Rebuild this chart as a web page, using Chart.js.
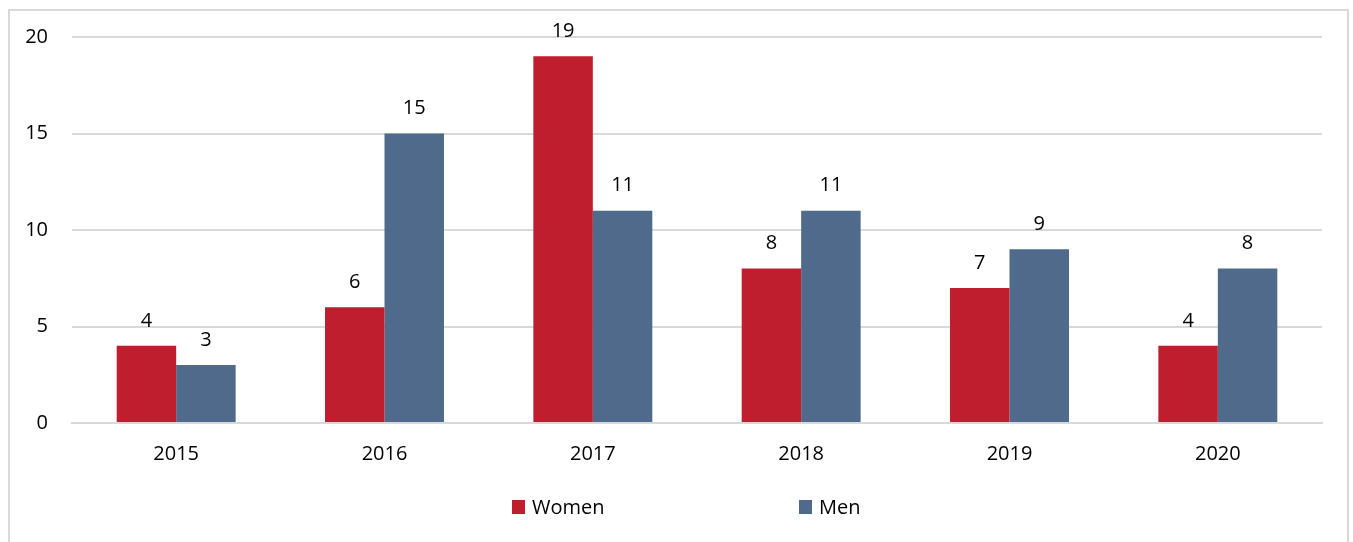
<!DOCTYPE html>
<html>
<head>
<meta charset="utf-8">
<script src="https://cdn.jsdelivr.net/npm/chart.js@4/dist/chart.umd.min.js"></script>
<style>
  body { margin: 0; background: #fff; }
  #wrap { position: relative; width: 1353px; height: 542px; overflow: hidden; }
  #frame { position: absolute; left: 8px; top: 9px; width: 1341px; height: 560px; border: 2px solid #d9d9d9; box-sizing: border-box; }
  #myChart { position: absolute; left: 0; top: 0; }
  .lg { position: absolute; top: 496px; font: 20px "Open Sans", sans-serif; color: #000; line-height: 22px; display: flex; align-items: center; }
  .lg i { display: inline-block; width: 13px; height: 14px; margin-right: 7px; }
</style>
</head>
<body>
<div id="wrap">
  <div id="frame"></div>
  <canvas id="myChart" width="1353" height="542"></canvas>
  <div id="legend"></div>
</div>
<script>
const years = ['2015', '2016', '2017', '2018', '2019', '2020'];
const women = [4, 6, 19, 8, 7, 4];
const men = [3, 15, 11, 11, 9, 8];
const yTicks = [0, 5, 10, 15, 20];

const red = '#BE1E2D';
const blue = '#4F6A8A';
const font = '"Open Sans", sans-serif';

// numbers above each bar
const barLabels = {
  id: 'barLabels',
  afterDatasetsDraw(chart) {
    const ctx = chart.ctx;
    ctx.save();
    ctx.font = '20px ' + font;
    ctx.fillStyle = '#000';
    ctx.textAlign = 'center';
    ctx.textBaseline = 'middle';
    chart.data.datasets.forEach((ds, i) => {
      chart.getDatasetMeta(i).data.forEach((bar, j) => {
        ctx.fillText(ds.data[j], bar.x, bar.y - 25);
      });
    });
    ctx.restore();
  }
};

const ctx = document.getElementById('myChart').getContext('2d');

const chart = new Chart(ctx, {
  type: 'bar',
  data: {
    labels: years,
    datasets: [
      { label: 'Women', data: women, backgroundColor: red },
      { label: 'Men', data: men, backgroundColor: blue }
    ]
  },
  options: {
    responsive: false,
    animation: false,
    layout: { padding: { left: 0, right: 31, top: 37, bottom: 0 } },
    datasets: { bar: { categoryPercentage: 0.571, barPercentage: 1.0 } },
    plugins: { legend: { display: false }, tooltip: { enabled: false } },
    scales: {
      x: {
        grid: { display: false, drawTicks: false },
        border: { color: '#d9d9d9', width: 2 },
        ticks: { color: '#000', font: { family: font, size: 20 }, padding: 19 },
        afterFit(scale) { scale.height = 119; }
      },
      y: {
        min: 0,
        max: 20,
        afterBuildTicks(scale) { scale.ticks = yTicks.map(v => ({ value: v })); },
        grid: { color: '#d9d9d9', lineWidth: 2, drawTicks: false },
        border: { display: false },
        ticks: { color: '#000', font: { family: font, size: 20 }, padding: 24 },
        afterFit(scale) { scale.width = 72; }
      }
    }
  },
  plugins: [barLabels]
});

// legend drawn as html under the chart
const legendPos = [512, 799];
const legend = document.getElementById('legend');
chart.data.datasets.forEach((ds, i) => {
  const item = document.createElement('div');
  item.className = 'lg';
  item.style.left = legendPos[i] + 'px';
  item.innerHTML = '<i style="background:' + ds.backgroundColor + '"></i>' + ds.label;
  legend.appendChild(item);
});
</script>
</body>
</html>
